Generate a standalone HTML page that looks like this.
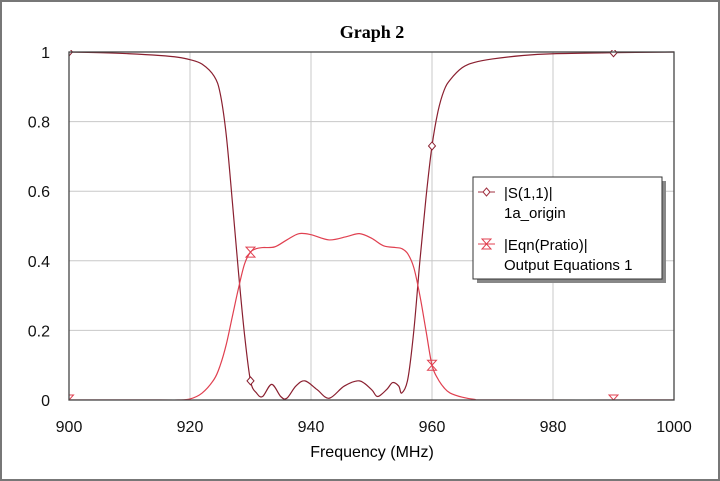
<!DOCTYPE html>
<html><head><meta charset="utf-8"><style>
body{margin:0;background:#fff}
svg{display:block;font-family:"Liberation Sans",Arial,sans-serif}
</style></head><body>
<svg width="720" height="481" viewBox="0 0 720 481">
<rect x="1" y="1" width="718" height="479" fill="#fff" stroke="#777" stroke-width="2"/>
<text x="372" y="38" text-anchor="middle" font-family="Liberation Serif,serif" font-weight="bold" font-size="18">Graph 2</text>
<g id="grid"></g>
<clipPath id="cp"><rect x="69" y="50" width="605" height="350"/></clipPath>
<g id="series" clip-path="url(#cp)"></g>
<rect x="69" y="52" width="605" height="348" fill="none" stroke="#444" stroke-width="1.3"/>
<g id="ticks" font-size="16" fill="#111"></g>
<text x="372" y="457" text-anchor="middle" font-size="16">Frequency (MHz)</text>
<g>
<rect x="477" y="181" width="189" height="102" fill="#888"/>
<rect x="473" y="177" width="189" height="102" fill="#fff" stroke="#333"/>
<line x1="478" y1="192" x2="495" y2="192" stroke="#a03040"/>
<path d="M486.5 188 L490 192 L486.5 196 L483 192 Z" fill="#fff" stroke="#a03040"/>
<text x="504" y="198" font-size="15">|S(1,1)|</text>
<text x="504" y="218" font-size="15">1a_origin</text>
<line x1="478" y1="244" x2="495" y2="244" stroke="#e04050"/>
<path d="M482 239 L491 239 L482 249 L491 249 Z" fill="none" stroke="#e04050"/>
<text x="504" y="250" font-size="15">|Eqn(Pratio)|</text>
<text x="504" y="270" font-size="15">Output Equations 1</text>
</g>
</svg>
<script>
const xTicks=[900,920,940,960,980,1000];
const yTicks=[0,0.2,0.4,0.6,0.8,1];
const yTickLabels=["0","0.2","0.4","0.6","0.8","1"];
const s11Freq=[900,905,910,915,918,920,922,924,925,926,927,928,929,930,931,932,933.5,935,936,937.5,939,941,943,945.5,948,950,951,952.5,953.5,954.5,955,956,957,958,959,960,961,962,963,965,967,970,975,980,990,1000];
const s11Val=[1,0.998,0.995,0.99,0.985,0.978,0.965,0.93,0.88,0.76,0.57,0.37,0.19,0.055,0.02,0.01,0.045,0.01,0.005,0.04,0.055,0.03,0.005,0.04,0.055,0.03,0.01,0.03,0.05,0.04,0.02,0.06,0.2,0.4,0.58,0.73,0.83,0.89,0.92,0.955,0.97,0.98,0.99,0.995,0.998,1];
const prFreq=[900,915,918,920,922,924,925,926,927,928,929,930,931,932,934,936,938,940,943,946,948,950,952,954,955,956,957,958,959,960,961,962,963,965,967,970,1000];
const prVal=[0,0,0,0.003,0.02,0.06,0.1,0.16,0.24,0.32,0.39,0.425,0.435,0.438,0.44,0.46,0.478,0.475,0.46,0.47,0.478,0.465,0.443,0.438,0.435,0.42,0.38,0.3,0.2,0.1,0.06,0.035,0.02,0.008,0.002,0,0];
const s11MarkFreq=[900,930,960,990];
const prMarkFreq=[900,930,960,990];
const X=f=>69+(f-900)/100*605;
const Y=v=>400-v*348;
const NS="http://www.w3.org/2000/svg";
function mk(t,a,p){const e=document.createElementNS(NS,t);for(const k in a)e.setAttribute(k,a[k]);p.appendChild(e);return e;}
const grid=document.getElementById('grid'),ticks=document.getElementById('ticks'),ser=document.getElementById('series');
xTicks.forEach(f=>{
 const l=mk('line',{x1:X(f),x2:X(f),y1:52,y2:400,stroke:'#c8c8c8'},grid);
 
 
 const t=mk('text',{x:X(f),y:432,'text-anchor':'middle'},ticks);t.textContent=f;
 
 
});
yTicks.forEach((v,i)=>{
 const l=mk('line',{x1:69,x2:674,y1:Y(v),y2:Y(v),stroke:'#c8c8c8'},grid);
 
 
 const t=mk('text',{x:50,y:Y(v)+6,'text-anchor':'end'},ticks);t.textContent=yTickLabels[i];
 
 
});
function interp(fs,vs,f){for(let i=0;i<fs.length-1;i++){if(f>=fs[i]&&f<=fs[i+1]){return vs[i]+(vs[i+1]-vs[i])*(f-fs[i])/(fs[i+1]-fs[i]);}}return vs[vs.length-1];}
function smooth(fs,vs){const P=fs.map((f,i)=>[X(f),Y(vs[i])]);let d='M'+P[0][0]+' '+P[0][1];
 for(let i=0;i<P.length-1;i++){const p0=P[Math.max(0,i-1)],p1=P[i],p2=P[i+1],p3=P[Math.min(P.length-1,i+2)];
  const c1=[p1[0]+(p2[0]-p0[0])/6,p1[1]+(p2[1]-p0[1])/6],c2=[p2[0]-(p3[0]-p1[0])/6,p2[1]-(p3[1]-p1[1])/6];
  d+=` C${c1[0]} ${c1[1]} ${c2[0]} ${c2[1]} ${p2[0]} ${p2[1]}`;}return d;}
const p1=mk('path',{d:smooth(s11Freq,s11Val),fill:'none',stroke:'#8a2030','stroke-width':1.2},ser);


const p2=mk('path',{d:smooth(prFreq,prVal),fill:'none',stroke:'#e04050','stroke-width':1.2},ser);


s11MarkFreq.forEach(f=>{const x=X(f),y=Y(interp(s11Freq,s11Val,f));
 const m=mk('path',{d:`M${x} ${y-4}L${x+3.5} ${y}L${x} ${y+4}L${x-3.5} ${y}Z`,fill:'#fff',stroke:'#8a2030'},ser);
 
 });
prMarkFreq.forEach(f=>{const x=X(f),y=Y(interp(prFreq,prVal,f));
 const m=mk('path',{d:`M${x-4.5} ${y-5}L${x+4.5} ${y-5}L${x-4.5} ${y+5}L${x+4.5} ${y+5}Z`,fill:'none',stroke:'#e04050'},ser);
 
 });
</script>
</body></html>
